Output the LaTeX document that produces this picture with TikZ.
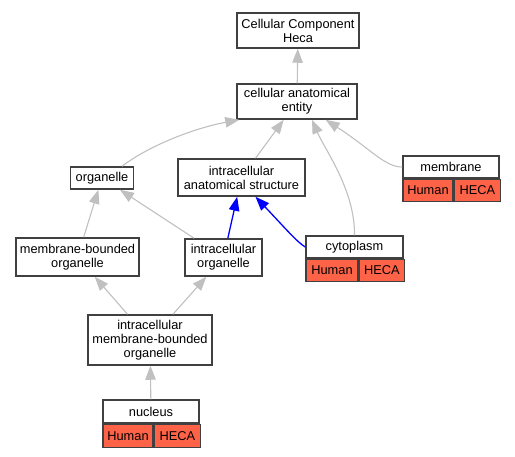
\documentclass[tikz,border=0pt]{standalone}
\usepackage{fontspec}
\setmainfont{Liberation Sans}
\usetikzlibrary{arrows.meta,calc}

\definecolor{hecared}{RGB}{255,99,71}
\definecolor{edgegray}{RGB}{192,192,192}
\definecolor{boxline}{RGB}{64,64,64}

\begin{document}
\begin{tikzpicture}[x=1pt, y=-1pt, font=\fontsize{12.8}{14}\selectfont]
    \tikzstyle{term} = [draw=boxline, line width=1.5pt, fill=white,
	align=center, inner sep=0pt]
    \tikzstyle{cell} = [term, fill=hecared, anchor=north west]
    \tikzstyle{isa} = [-{Triangle[length=14pt,width=10.5pt]}, edgegray, line width=1.1pt]
    \tikzstyle{partof} = [-{Triangle[length=14pt,width=10.5pt]}, blue, line width=1.3pt]

    \useasboundingbox (0,0) rectangle (515,456);

	\begin{scope}
		% terms
		\node[term, minimum width=122, minimum height=35] (cc_heca) at (298,30.5) {Cellular Component\\Heca};
		\node[term, minimum width=120, minimum height=35] (cae) at (297,101.5) {cellular anatomical\\entity};
		\node[term, minimum width=63, minimum height=22] (organelle) at (102,178) {organelle};
		\node[term, minimum width=127, minimum height=37] (ias) at (241.5,177.5) {intracellular\\anatomical structure};
		\node[term, minimum width=123, minimum height=38] (mbo) at (77.5,257) {membrane-bounded\\organelle};
		\node[term, minimum width=77, minimum height=37] (io) at (223.5,257.5) {intracellular\\organelle};
		\node[term, minimum width=124, minimum height=50] (imbo) at (150,340) {intracellular\\membrane-bounded\\organelle};

		% annotated terms
		\node[term, minimum width=96, minimum height=22] (membrane) at (451,167) {membrane};
		\node[cell, minimum width=50, minimum height=22] (membrane_human) at (membrane.south west) {Human};
		\node[cell, minimum width=46, minimum height=22] (membrane_heca) at (membrane_human.north east) {HECA};

		\node[term, minimum width=97, minimum height=22] (cytoplasm) at (354.5,247) {cytoplasm};
		\node[cell, minimum width=52, minimum height=22] (cytoplasm_human) at (cytoplasm.south west) {Human};
		\node[cell, minimum width=45, minimum height=22] (cytoplasm_heca) at (cytoplasm_human.north east) {HECA};

		\node[term, minimum width=96, minimum height=23] (nucleus) at (151,411.5) {nucleus};
		\node[cell, minimum width=50, minimum height=23] (nucleus_human) at (nucleus.south west) {Human};
		\node[cell, minimum width=46, minimum height=23] (nucleus_heca) at (nucleus_human.north east) {HECA};

		\path[isa]
			(cae) edge (cc_heca)
			(ias) edge (cae)
			(mbo) edge (organelle)
			(io) edge (organelle)
			(imbo) edge (mbo)
			(imbo) edge (io)
			(nucleus) edge (imbo)
		;
		\draw[isa] ($(organelle.north)+(20,0)$) .. controls (150,145) and (195,128) .. ($(cae.south west)+(3,0)$);
		\draw[isa] (cytoplasm.north) .. controls (355,190) and (325,150) .. ($(cae.south)+(15,0)$);
		\draw[isa] (membrane.west) .. controls (385,167) and (372,150) .. ($(cae.south east)+(-32,0)$);

		\path[partof]
			(io) edge (ias)
		;
		\draw[partof] (cytoplasm.west) .. controls (297,242) and (285,228) .. ($(ias.south)+(14,0)$);
	\end{scope}
\end{tikzpicture}
\end{document}
